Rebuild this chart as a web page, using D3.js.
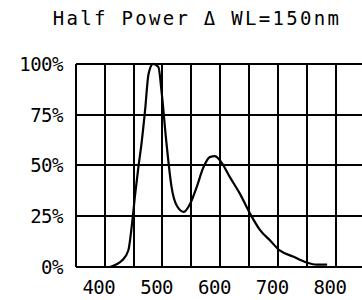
<!DOCTYPE html>
<html>
<head>
<meta charset="utf-8">
<script src="https://cdn.jsdelivr.net/npm/d3@7"></script>
<style>
  body { margin: 0; background: #fff; }
  text { font-family: "DejaVu Sans Mono", monospace; fill: #000; }
</style>
</head>
<body>
<div id="chart"></div>
<script>
// ......................
// Data
var wavelength = [420, 440, 451, 457, 463, 468, 474, 480, 486, 494, 503, 509, 517, 526, 535, 547, 558, 569, 581, 592, 601, 608, 613, 627, 644, 662, 679, 696, 713, 736, 760, 777, 795];
var power = [0, 3, 8, 20, 36, 48, 61, 77, 95, 100, 98.5, 85, 61, 39, 30, 27, 31, 39, 49, 54, 54.5, 53, 51, 44, 36, 26, 18, 13, 8, 5, 2, 1, 1];

var xTicks = [400, 500, 600, 700, 800];
var xGrid = d3.range(360, 861, 50);
var yTicks = [0, 25, 50, 75, 100];
var yLabels = ["0%", "25%", "50%", "75%", "100%"];
var title = "Half Power \u0394 WL=150nm";

// ......................
// SVG area
var svgWidth = 362;
var svgHeight = 300;

var svg = d3.select("#chart")
    .append("svg")
    .attr("width", svgWidth)
    .attr("height", svgHeight);

var x = d3.scaleLinear()
    .domain([360, 860])
    .range([75.7, 364.7]);

var y = d3.scaleLinear()
    .domain([0, 100])
    .range([266.7, 63.8]);

// title
svg.append("text")
    .attr("x", 197)
    .attr("y", 25)
    .attr("text-anchor", "middle")
    .attr("font-size", 19)
    .attr("letter-spacing", 2.3)
    .text(title);

// grid
var grid = svg.append("g")
    .attr("stroke", "#000")
    .attr("stroke-width", 2)
    .attr("shape-rendering", "crispEdges");

grid.selectAll("line.v")
    .data(xGrid)
    .enter().append("line")
    .attr("class", "v")
    .attr("x1", d => x(d)).attr("x2", d => x(d))
    .attr("y1", y(100)).attr("y2", y(0));

grid.selectAll("line.h")
    .data(yTicks)
    .enter().append("line")
    .attr("class", "h")
    .attr("x1", x(360)).attr("x2", x(860))
    .attr("y1", d => y(d)).attr("y2", d => y(d));

// y labels
svg.selectAll("text.ylab")
    .data(yTicks)
    .enter().append("text")
    .attr("class", "ylab")
    .attr("x", 63)
    .attr("y", d => y(d) + 7)
    .attr("text-anchor", "end")
    .attr("font-size", 19)
    .attr("letter-spacing", -0.5)
    .text((d, i) => yLabels[i]);

// x labels
svg.selectAll("text.xlab")
    .data(xTicks)
    .enter().append("text")
    .attr("class", "xlab")
    .attr("x", d => x(d))
    .attr("y", 294)
    .attr("text-anchor", "middle")
    .attr("font-size", 19)
    .attr("letter-spacing", -0.5)
    .text(d => d);

// spectrum
var line = d3.line()
    .x((d, i) => x(wavelength[i]))
    .y(d => y(d))
    .curve(d3.curveMonotoneX);

svg.append("path")
    .datum(power)
    .attr("d", line)
    .attr("fill", "none")
    .attr("stroke", "#000")
    .attr("stroke-width", 2.2);
</script>
</body>
</html>
